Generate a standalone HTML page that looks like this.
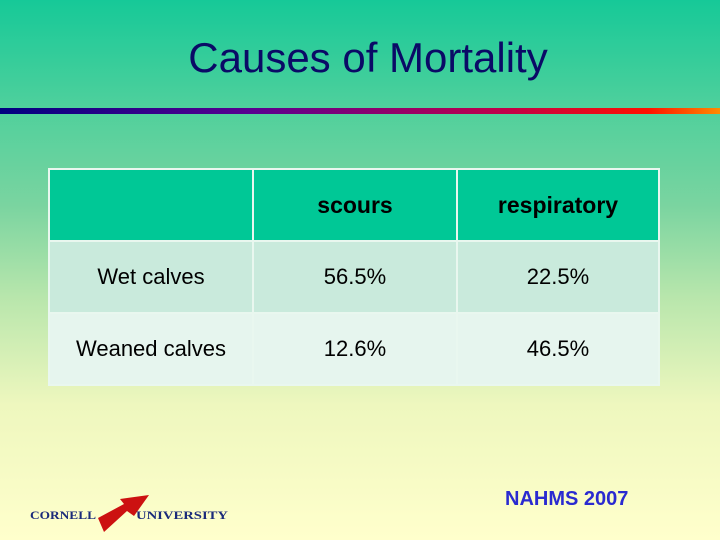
<!DOCTYPE html>
<html><head><meta charset="utf-8">
<style>
html,body{margin:0;padding:0}
body{width:720px;height:540px;position:relative;overflow:hidden;
background:linear-gradient(to bottom,#16c998 0%,#4fd09c 20%,#7ad4a0 38%,#b8e6ac 55%,#eef7be 75%,#ffffcc 100%);
font-family:"Comic Sans MS","Liberation Sans",sans-serif;}
#title{position:absolute;left:0;width:736px;top:34px;text-align:center;font-size:42px;color:#0a0a66;font-weight:normal;}
#bar{position:absolute;left:0;top:108px;width:720px;height:6px;
background:linear-gradient(to right,#000080 0%,#5a0090 35%,#c0004a 70%,#ff1000 90%,#ff8c00 100%);}
table{position:absolute;left:48px;top:168px;width:612px;border-collapse:collapse;}
td{height:72px;box-sizing:border-box;border:2px solid #e9f7ef;text-align:center;font-size:22px;color:#000;padding:0;}
tr.h td{background:#00c896;font-weight:bold;font-size:23px;}
tr.r1 td{background:#c9eadc;}
tr.r2 td{background:#e6f5ee;}
#src{position:absolute;left:505px;top:488px;font-size:20px;font-weight:bold;color:#2a2ad0;}
#logo{position:absolute;left:28px;top:492px;}
</style></head><body>
<div id="title">Causes of Mortality</div>
<div id="bar"></div>
<table>
<tr class="h"><td style="width:204px"></td><td style="width:204px">scours</td><td>respiratory</td></tr>
<tr class="r1"><td>Wet calves</td><td>56.5%</td><td>22.5%</td></tr>
<tr class="r2"><td>Weaned calves</td><td>12.6%</td><td>46.5%</td></tr>
</table>
<div id="src">NAHMS 2007</div>
<svg id="logo" width="210" height="44">
<text x="2" y="27" font-family="Liberation Serif,serif" font-weight="bold" font-size="12" fill="#1a2a7a" textLength="66" lengthAdjust="spacingAndGlyphs">CORNELL</text>
<polygon points="70,26 96,12 92,7 121,3 106,24 99,19 76,40" fill="#cc1111"/>
<text x="108" y="27" font-family="Liberation Serif,serif" font-weight="bold" font-size="12" fill="#1a2a7a" textLength="92" lengthAdjust="spacingAndGlyphs">UNIVERSITY</text>
</svg>
</body></html>
